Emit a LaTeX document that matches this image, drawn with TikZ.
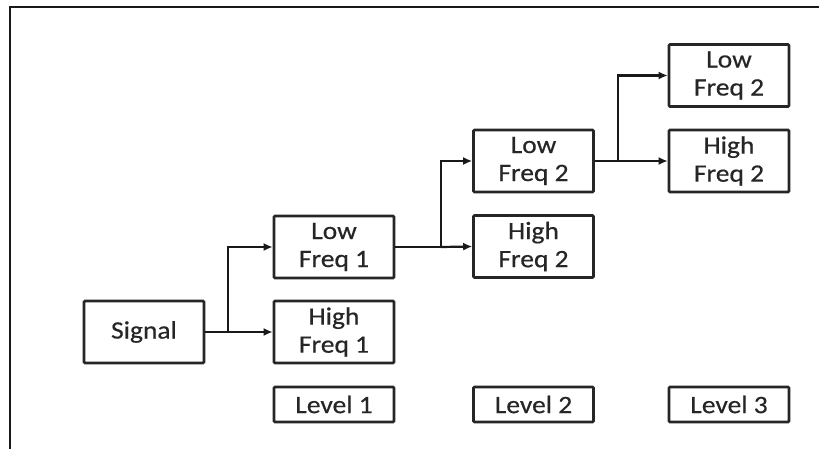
\documentclass[tikz,border=0pt]{standalone}
\usepackage{fontspec}
\setmainfont{Carlito}[FakeStretch=1.1,FakeBold=0.5]
\usetikzlibrary{arrows.meta}
\begin{document}
\begin{tikzpicture}[x=1pt,y=-1pt,
  box/.style={draw=black!85,line width=2.6pt,rounded corners=1pt,minimum width=120pt,minimum height=62pt,inner sep=0pt,align=center,
    font=\fontsize{25}{28}\selectfont,text=black!85},
  lvl/.style={box,minimum height=35pt},
  conn/.style={draw=black!90,line width=2.2pt},
  arr/.style={conn,-{Latex[length=9pt,width=8pt]}}]
\useasboundingbox (0,0) rectangle (819,449);
\draw[line width=2pt,black!90] (9.5,449) -- (9.5,7.5) -- (819,7.5);
\node[box] (sig) at (144,332) {Signal};
\node[box] (lf1) at (334,247) {Low\\Freq 1};
\node[box] (hf1) at (334,332) {High\\Freq 1};
\node[box] (lf2) at (533.5,161) {Low\\Freq 2};
\node[box] (hf2) at (533.5,246.5) {High\\Freq 2};
\node[box] (lf3) at (729,75.5) {Low\\Freq 2};
\node[box] (hf3) at (729,161) {High\\Freq 2};
\node[lvl] (l1) at (334,404.5) {Level 1};
\node[lvl] (l2) at (533.5,404.5) {Level 2};
\node[lvl] (l3) at (729,404.5) {Level 3};
\coordinate (j1) at (228,332);
\coordinate (j2) at (441,247);
\coordinate (j3) at (618,161);
\draw[conn] (sig.east) -- (j1);
\draw[arr] (j1) |- (lf1.west);
\draw[arr] (j1) -- (hf1.west);
\draw[conn] (lf1.east) -- (j2);
\draw[arr] (j2) |- (lf2.west);
\draw[arr] (j2) -- (hf2.west);
\draw[conn] (lf2.east) -- (j3);
\draw[arr] (j3) |- (lf3.west);
\draw[arr] (j3) -- (hf3.west);
\end{tikzpicture}
\end{document}
